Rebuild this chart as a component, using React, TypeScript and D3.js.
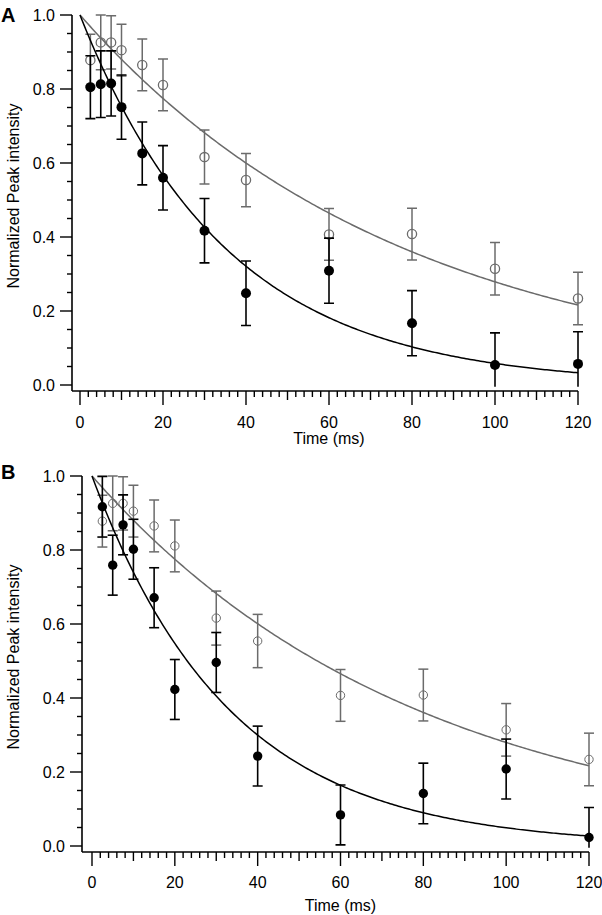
import React from "react";
import * as d3 from "d3";

// ---- data ----
const times = [2.5, 5, 7.5, 10, 15, 20, 30, 40, 60, 80, 100, 120];

const grayValues = [0.878, 0.926, 0.926, 0.905, 0.865, 0.811, 0.616, 0.554, 0.407, 0.408, 0.314, 0.234];
const grayErrors = [0.07, 0.074, 0.072, 0.07, 0.07, 0.07, 0.073, 0.072, 0.07, 0.07, 0.071, 0.071];

const blackValuesA = [0.805, 0.813, 0.815, 0.751, 0.626, 0.56, 0.417, 0.248, 0.309, 0.167, 0.054, 0.057];
const blackErrorsA = [0.085, 0.09, 0.088, 0.087, 0.085, 0.087, 0.087, 0.087, 0.088, 0.088, 0.087, 0.087];

const blackValuesB = [0.917, 0.759, 0.868, 0.802, 0.671, 0.423, 0.496, 0.243, 0.084, 0.142, 0.208, 0.023];
const blackErrorsB = [0.082, 0.081, 0.081, 0.081, 0.081, 0.081, 0.081, 0.081, 0.081, 0.082, 0.081, 0.081];

// exponential fit time constants (ms): [black, gray]
const fitTauA = [35.2, 78.3];
const fitTauB = [33.2, 78.5];

const xTickLabels = [0, 20, 40, 60, 80, 100, 120];
const yTickLabels = ["0.0", "0.2", "0.4", "0.6", "0.8", "1.0"];
const panelLetters = ["A", "B"];
const xTitle = "Time (ms)";
const yTitle = "Normalized Peak intensity";

// ---- layout ----
const FONT = "'Liberation Sans', Arial, Helvetica, sans-serif";
const GRAY = "#6b6b6b";
const BLACK = "#000";

const panels = [
  { letter: panelLetters[0], black: blackValuesA, blackErr: blackErrorsA, tau: fitTauA,
    axisX: 72, xZero: 80, xEnd: 578, yOne: 15, yZero: 385, axisY: 391,
    tickLabelBase: 428, titleBase: 444, letterBase: 22,
    blackR: 5, grayR: 4.6, grayStroke: 1.3 },
  { letter: panelLetters[1], black: blackValuesB, blackErr: blackErrorsB, tau: fitTauB,
    axisX: 82, xZero: 92, xEnd: 589, yOne: 476, yZero: 846, axisY: 852,
    tickLabelBase: 888, titleBase: 911, letterBase: 479,
    blackR: 4.7, grayR: 4.2, grayStroke: 1.0 },
];

function Panel({ p, idx }: { p: any; idx: number }) {
  const x = d3.scaleLinear().domain([0, 120]).range([p.xZero, p.xEnd]);
  const y = d3.scaleLinear().domain([0, 1]).range([p.yZero, p.yOne]);

  const minorX = d3.range(0, 121, 2);
  const minorY = d3.range(0, 1.0001, 0.05);

  const fitLine = (tau: number) => {
    const ts = d3.range(0, 120.01, 0.5);
    return d3.line<number>()
      .x((t) => x(t))
      .y((t) => y(Math.exp(-t / tau)))(ts) as string;
  };

  const clipId = `clip-${idx}`;
  const capW = 5;

  const errorBars = (vals: number[], errs: number[], color: string, sw: number) =>
    times.map((t, i) => {
      const cx = x(t);
      const top = y(vals[i] + errs[i]);
      const bot = y(vals[i] - errs[i]);
      return (
        <g key={i} stroke={color} strokeWidth={sw} fill="none">
          <line x1={cx} x2={cx} y1={top} y2={bot} />
          <line x1={cx - capW} x2={cx + capW} y1={top} y2={top} />
          <line x1={cx - capW} x2={cx + capW} y1={bot} y2={bot} />
        </g>
      );
    });

  const yMid = (p.yOne + p.yZero) / 2 - 4;

  return (
    <g>
      <defs>
        <clipPath id={clipId}>
          <rect x={p.axisX + 1} y={p.yOne - 2} width={p.xEnd - p.axisX + 20} height={y(-0.005) - p.yOne + 2} />
        </clipPath>
      </defs>
      {/* panel letter */}
      <text x={1} y={p.letterBase} fontFamily={FONT} fontWeight="bold" fontSize={20}>{p.letter}</text>

      {/* axes lines */}
      <line x1={p.axisX} x2={p.axisX} y1={p.yOne} y2={p.axisY} stroke={BLACK} strokeWidth={1.6} />
      <line x1={p.axisX} x2={p.xEnd} y1={p.axisY} y2={p.axisY} stroke={BLACK} strokeWidth={1.6} />

      {/* y ticks */}
      {minorY.map((v, i) => {
        const major = i % 4 === 0;
        return (
          <line key={i} x1={p.axisX - (major ? 12 : 5)} x2={p.axisX} y1={y(v)} y2={y(v)} stroke={BLACK} strokeWidth={1.4} />
        );
      })}
      {yTickLabels.map((lab, i) => (
        <text key={lab} x={p.axisX - 17} y={y(+lab) + 6} textAnchor="end" fontFamily={FONT} fontSize={16}>{lab}</text>
      ))}

      {/* x ticks */}
      {minorX.map((t) => {
        const len = t % 20 === 0 ? 14 : t % 10 === 0 ? 9 : 6;
        return <line key={t} x1={x(t)} x2={x(t)} y1={p.axisY} y2={p.axisY + len} stroke={BLACK} strokeWidth={1.4} />;
      })}
      {xTickLabels.map((t) => (
        <text key={t} x={x(t)} y={p.tickLabelBase} textAnchor="middle" fontFamily={FONT} fontSize={16}>{t}</text>
      ))}

      {/* titles */}
      <text x={(p.xZero + p.xEnd) / 2} y={p.titleBase} textAnchor="middle" fontFamily={FONT} fontSize={16}>{xTitle}</text>
      <text transform={`translate(${19},${yMid}) rotate(-90)`} textAnchor="middle" fontFamily={FONT} fontSize={16}>{yTitle}</text>

      {/* data */}
      <g clipPath={`url(#${clipId})`}>
        {errorBars(grayValues, grayErrors, GRAY, 1.5)}
        <path d={fitLine(p.tau[1])} fill="none" stroke={GRAY} strokeWidth={1.5} />
        {times.map((t, i) => (
          <circle key={i} cx={x(t)} cy={y(grayValues[i])} r={p.grayR} fill="#fff" fillOpacity={0} stroke={GRAY} strokeWidth={p.grayStroke} />
        ))}
        {errorBars(p.black, p.blackErr, BLACK, 1.6)}
        <path d={fitLine(p.tau[0])} fill="none" stroke={BLACK} strokeWidth={1.5} />
        {times.map((t, i) => (
          <circle key={i} cx={x(t)} cy={y(p.black[i])} r={p.blackR} fill={BLACK} />
        ))}
      </g>
    </g>
  );
}

export default function App() {
  return (
    <svg width={602} height={915} style={{ position: "absolute", left: 0, top: 0, background: "#fff" }}>
      <rect width={602} height={915} fill="#fff" />
      {panels.map((p, i) => (
        <Panel key={i} p={p} idx={i} />
      ))}
    </svg>
  );
}
